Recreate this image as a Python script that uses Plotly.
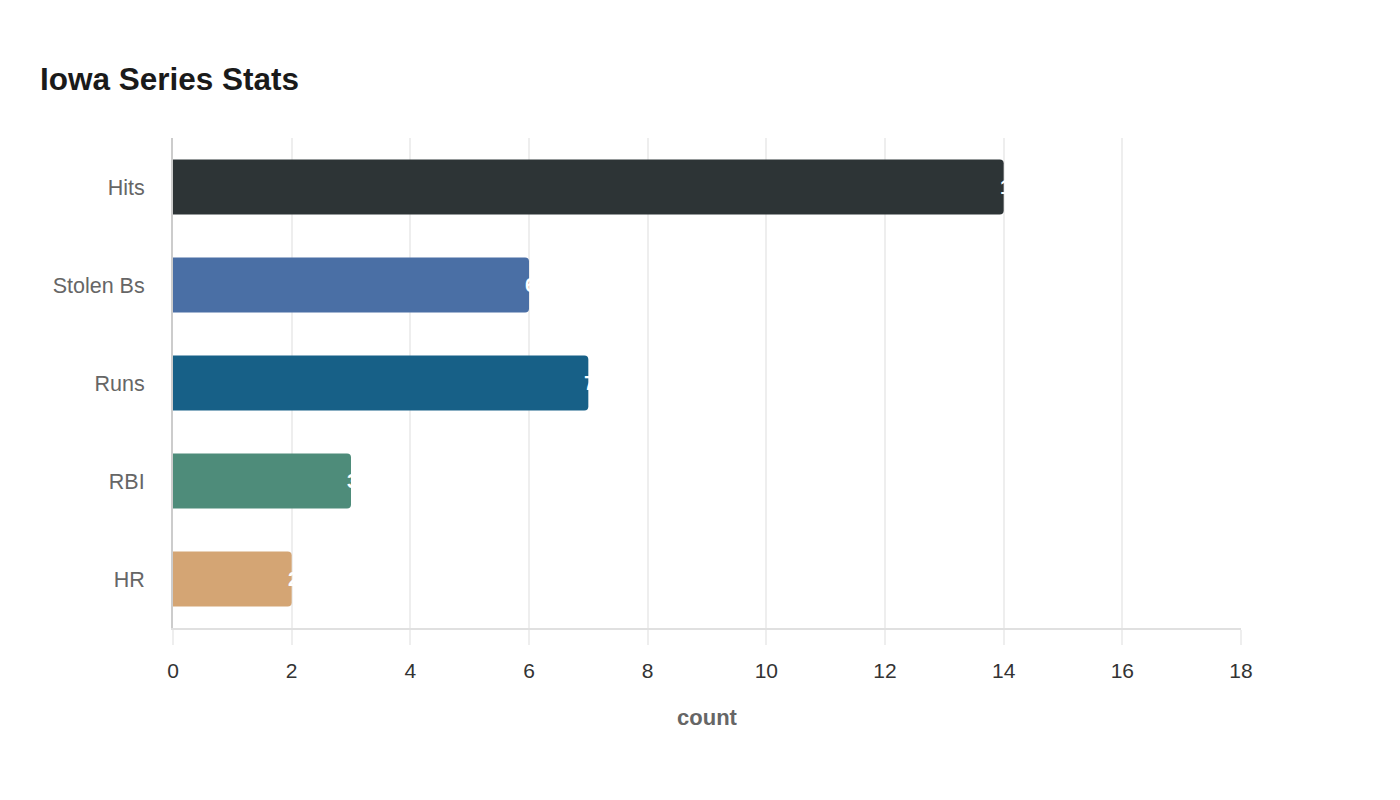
import plotly.graph_objects as go

# data
stats = ['Hits', 'Stolen Bs', 'Runs', 'RBI', 'HR']
counts = [14, 6, 7, 3, 2]
bar_colors = ['#2d3436', '#4a6fa5', '#176087', '#4e8c7a', '#d4a574']
x_ticks = [0, 2, 4, 6, 8, 10, 12, 14, 16, 18]

FONT = 'Liberation Sans, Arial, sans-serif'

fig = go.Figure()
fig.add_trace(go.Bar(
    x=counts,
    y=stats,
    orientation='h',
    marker=dict(color=bar_colors, cornerradius=4, line=dict(width=0)),
    width=0.56,
    hoverinfo='x+y',
    showlegend=False,
))

# value labels sit at the bar end (white, so the part past the bar disappears)
for s, c in zip(stats, counts):
    fig.add_annotation(
        x=c, y=s, text='<b>%d</b>' % c, showarrow=False,
        xanchor='left', xshift=-6,
        font=dict(family=FONT, size=20, color='#ffffff'),
    )

# page puts the plot 8px in from the top-left, margins allow for that
fig.update_layout(
    width=1400, height=800,
    paper_bgcolor='#ffffff', plot_bgcolor='#ffffff',
    margin=dict(l=165, r=167, t=130, b=180),
    title=dict(
        text='<b>Iowa Series Stats</b>',
        x=32 / 1400, xanchor='left', xref='container',
        y=1 - 71 / 800, yanchor='middle', yref='container',
        font=dict(family=FONT, size=31.5, color='#1a1a1a'),
    ),
    font=dict(family=FONT),
)

fig.update_xaxes(
    range=[0, 18], tickvals=x_ticks,
    showgrid=True, gridcolor='#eeeeee', gridwidth=1.5,
    zeroline=False,
    showline=True, linecolor='#e0e0e0', linewidth=2,
    ticks='outside', ticklen=15, tickcolor='#eeeeee', tickwidth=1.5,
    ticklabelstandoff=8,
    tickfont=dict(family=FONT, size=21, color='#333333'),
    title=dict(text='<b>count</b>', standoff=28,
               font=dict(family=FONT, size=22, color='#666666')),
)
fig.update_yaxes(
    categoryorder='array', categoryarray=stats[::-1],
    range=[-0.5, 4.5],
    showgrid=False, zeroline=False,
    showline=True, linecolor='#cccccc', linewidth=2,
    ticks='', ticklabelstandoff=22,
    tickfont=dict(family=FONT, size=21.5, color='#666666'),
)

fig.write_html('out.html')
